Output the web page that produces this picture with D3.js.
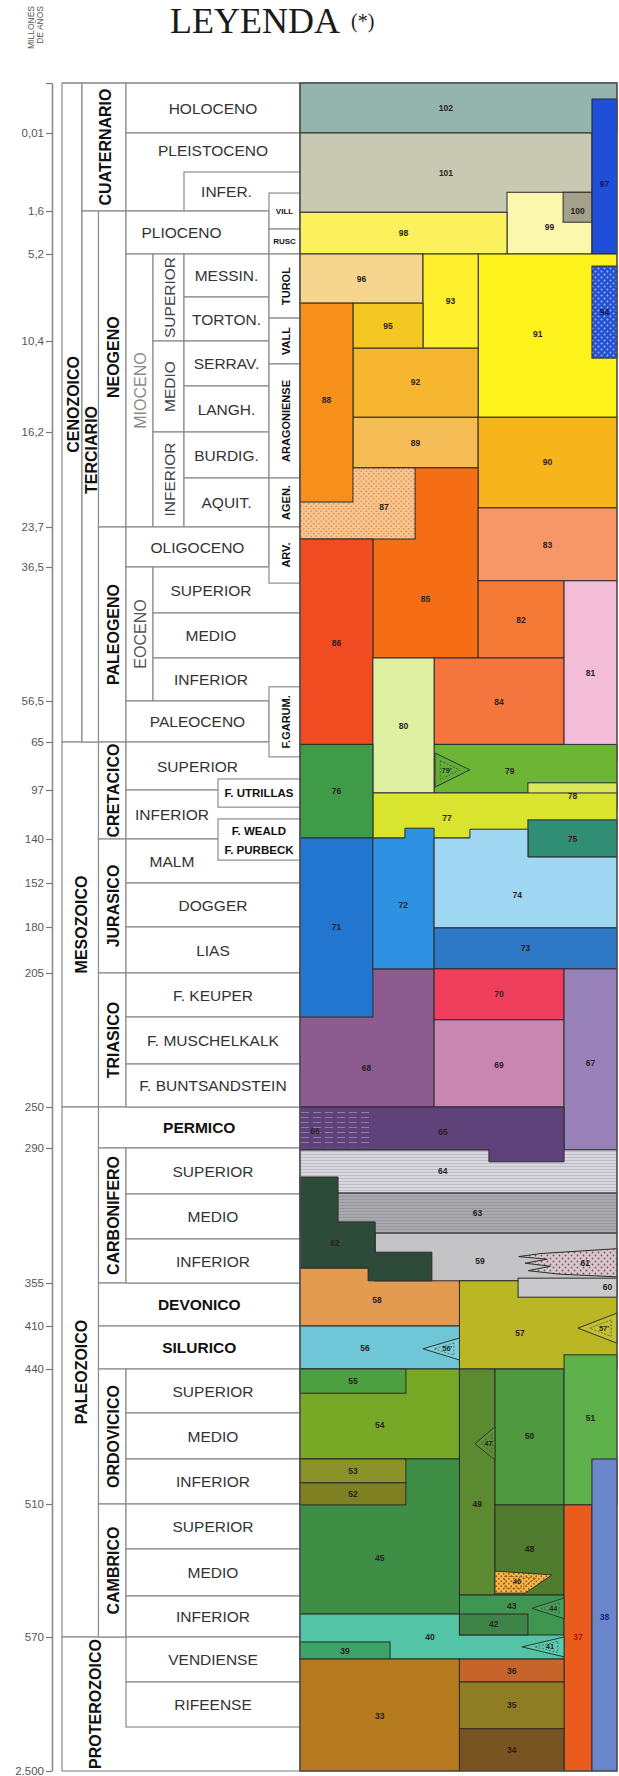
<!DOCTYPE html>
<html><head><meta charset="utf-8">
<script src="https://cdn.jsdelivr.net/npm/d3@7"></script>
<style>body{margin:0;background:#fff}svg{display:block}</style>
</head><body>
<svg id="c" width="619" height="1776"></svg>
<script>
// ================= DATA =================
// Time ticks (millones de años) and the stage-row index at which each sits
const tickAges = [0,0.01,1.6,5.2,10.4,16.2,23.7,36.5,56.5,65,97,140,152,180,205,250,290,355,410,440,510,570,2500];
const tickRows = [0,1,2,3,5,7,9,10,13,14,15,16,17,18,19,22,23,26,27,28,31,34,37];

// Chronostratigraphic table: [label, fromColumn, toColumn, fromRow, toRow, kind, extra]
const eraCells = [
 ["CENOZOICO",0,1,0,14,"era",{lr:6.4}],
 ["MESOZOICO",0,2,14,22,"era"],
 ["PALEOZOICO",0,2,22,34,"era"],
 ["PROTEROZOICO",0,8,34,37,"era",{lc1:3}],
 ["CUATERNARIO",1,3,0,2,"per"],
 ["TERCIARIO",1,2,2,14,"per",{lr:7.39}]
];
const periodCells = [
 ["NEOGENO",2,3,2,9,"per",{lr:5.36}],["PALEOGENO",2,3,9,14,"per"],
 ["CRETACICO",2,3,14,16,"per"],["JURASICO",2,3,16,19,"per"],["TRIASICO",2,3,19,22,"per"],
 ["PERMICO",2,8,22,23,"perH"],["CARBONIFERO",2,3,23,26,"per"],
 ["DEVONICO",2,8,26,27,"perH"],["SILURICO",2,8,27,28,"perH"],
 ["ORDOVICICO",2,3,28,31,"per"],["CAMBRICO",2,3,31,34,"per"]
];
const stageCells = [
 ["HOLOCENO",3,8,0,1,"st"],["PLEISTOCENO",3,8,1,2,"st",{lr:1.23}],
 ["INFER.",5,8,1.5,2,"st",{lc1:7}],
 ["PLIOCENO",3,7,2,3,"st",{dx:-16}],
 ["MIOCENO",3,4,3,9,"epo"],
 ["SUPERIOR",4,5,3,5,"sub"],["MEDIO",4,5,5,7,"sub"],["INFERIOR",4,5,7,9,"sub"],
 ["MESSIN.",5,7,3,4,"st"],["TORTON.",5,7,4,5,"st"],["SERRAV.",5,7,5,6,"st"],
 ["LANGH.",5,7,6,7,"st"],["BURDIG.",5,7,7,8,"st"],["AQUIT.",5,7,8,9,"st"],
 ["OLIGOCENO",3,7,9,10,"st"],
 ["EOCENO",3,4,10,13,"epo",{fill:"#555"}],
 ["SUPERIOR",4,8,10,11,"st",{lc1:7}],["MEDIO",4,8,11,12,"st",{lc1:7}],["INFERIOR",4,8,12,13,"st",{lc1:7}],
 ["PALEOCENO",3,7,13,14,"st"],
 ["SUPERIOR",3,8,14,15,"st",{lc1:7}],["INFERIOR",3,8,15,16,"st",{lc1:6}],
 ["MALM",3,8,16,17,"st",{lc1:6}],["DOGGER",3,8,17,18,"st"],["LIAS",3,8,18,19,"st"],
 ["F. KEUPER",3,8,19,20,"st"],["F. MUSCHELKALK",3,8,20,21,"st"],["F. BUNTSANDSTEIN",3,8,21,22,"st"],
 ["SUPERIOR",3,8,23,24,"st"],["MEDIO",3,8,24,25,"st"],["INFERIOR",3,8,25,26,"st"],
 ["SUPERIOR",3,8,28,29,"st"],["MEDIO",3,8,29,30,"st"],["INFERIOR",3,8,30,31,"st"],
 ["SUPERIOR",3,8,31,32,"st"],["MEDIO",3,8,32,33,"st"],["INFERIOR",3,8,33,34,"st"],
 ["VENDIENSE",3,8,34,35,"st"],["RIFEENSE",3,8,35,36,"st"]
];
const localCells = [
 ["VILL",7,8,1.77,2.42,"tiny"],["RUSC",7,8,2.42,3,"tiny"],
 ["TUROL",7,8,3,4.48,"boxR"],["VALL",7,8,4.48,5.51,"boxR"],["ARAGONIENSE",7,8,5.51,8,"boxR"],
 ["AGEN.",7,8,8,9,"boxR"],["ARV.",7,8,9,10.35,"boxR"],
 ["F.GARUM.",7,8,12.67,14.31,"boxR"],
 ["F. UTRILLAS",6,8,14.77,15.35,"boxH"],
 ["F. WEALD",6,8,15.59,16.48,"boxH",{lr:15.83}],
 ["F. PURBECK",6,8,15.59,16.48,"lbl",{lr:16.25}]
];

// Map units (x: % of panel width, r: stage rows), drawn back to front
const units = [
 {id:"102",fill:"#93b5ad",x0:0,x1:100,r0:0,r1:1,lx:46},
 {id:"101",fill:"#c8c9b3",x0:0,x1:92.1,r0:1,r1:2.03},
 {id:"99",fill:"#fbf7ad",x0:65.3,x1:92.1,r0:1.76,r1:3},
 {id:"100",fill:"#a3a18b",x0:83,x1:92.1,r0:1.76,r1:2.26},
 {id:"98",fill:"#fbf15c",x0:0,x1:65.3,r0:2.03,r1:3},
 {id:"97",fill:"#1f4fd8",x0:92.1,x1:100,r0:0.32,r1:3,tc:"#0b1a5a"},
 {id:"91",fill:"#fdf21c",x0:56.2,x1:100,r0:3,r1:6.68,lx:75},
 {id:"94",fill:"url(#pBlue)",x0:92.1,x1:100,r0:3.28,r1:5.38,tc:"#0b1a5a"},
 {id:"96",fill:"#f6d68e",x0:0,x1:38.8,r0:3,r1:4.14},
 {id:"93",fill:"#fdee2e",x0:38.8,x1:56.2,r0:3,r1:5.16},
 {id:"95",fill:"#f4c823",x0:16.7,x1:38.8,r0:4.14,r1:5.16},
 {id:"92",fill:"#f6b630",x0:16.7,x1:56.2,r0:5.16,r1:6.68},
 {id:"89",fill:"#f6bc55",x0:16.7,x1:56.2,r0:6.68,r1:7.78},
 {id:"90",fill:"#f8b51b",x0:56.2,x1:100,r0:6.68,r1:8.61},
 {id:"85",fill:"#f56e15",x0:23,x1:56.2,r0:7.78,r1:12,lr:10.7},
 {id:"87",fill:"url(#pPeach)",x0:0,x1:36.3,r0:7.78,r1:9.3,lx:26.5,lr:8.6},
 {id:"88",fill:"#f7901b",x0:0,x1:16.7,r0:4.14,r1:8.49},
 {id:"86",fill:"#f14b22",x0:0,x1:23,r0:9.3,r1:14.05},
 {id:"83",fill:"#f79767",x0:56.2,x1:100,r0:8.61,r1:10.3},
 {id:"82",fill:"#f57a36",x0:56.2,x1:83.3,r0:10.3,r1:12},
 {id:"84",fill:"#f5753f",x0:42.3,x1:83.3,r0:12,r1:14.05},
 {id:"81",fill:"#f4bdd7",x0:83.3,x1:100,r0:10.3,r1:14.4},
 {id:"79",fill:"#6db535",x0:42.3,x1:100,r0:14.05,r1:15.06,lx:66.2,lr:14.6},
 {id:"80",fill:"#dff0a3",x0:23,x1:42.3,r0:12,r1:15.06,lr:13.6},
 {id:"78",fill:"#dae75c",x0:71.9,x1:100,r0:14.85,r1:15.41},
 {id:"77",fill:"#d9e42e",x0:23,x1:100,r0:15.06,r1:15.98,lx:46.4,lr:15.57},
 {id:"76",fill:"#3f9b47",x0:0,x1:23,r0:14.05,r1:15.98},
 {id:"75",fill:"#2f8e73",x0:71.9,x1:100,r0:15.61,r1:16.41},
 {id:"68",fill:"#8c5b8f",x0:0,x1:42.3,r0:18.91,r1:22,lx:21,lr:21.1},
 {id:"71",fill:"#2276cf",x0:0,x1:23,r0:15.98,r1:20},
 {id:"72",fill:"#2e91e2",pts:[[23,15.98],[33.1,15.98],[33.1,15.78],[42.3,15.78],[42.3,18.91],[23,18.91]],lx:32.6,lr:17.5},
 {id:"74",fill:"#a0d8f3",pts:[[42.3,15.98],[53.6,15.98],[53.6,15.8],[71.9,15.8],[71.9,16.41],[100,16.41],[100,18.02],[42.3,18.02]],lx:68.5,lr:17.27},
 {id:"73",fill:"#2f78c5",x0:42.3,x1:100,r0:18.02,r1:18.91},
 {id:"70",fill:"#f03f5d",x0:42.3,x1:83.3,r0:18.91,r1:20.06},
 {id:"69",fill:"#c886b1",x0:42.3,x1:83.3,r0:20.06,r1:22},
 {id:"67",fill:"#9981b9",x0:83.3,x1:100,r0:18.91,r1:23.04},
 {id:"64",fill:"url(#pLight)",x0:0,x1:100,r0:23.04,r1:23.98,lx:45},
 {id:"65",fill:"#5f4279",pts:[[0,22],[83.3,22],[83.3,23.3],[59.6,23.3],[59.6,23.04],[0,23.04]],lx:45.1,lr:22.6},
 {id:"66",fill:"url(#pHatch)",x0:0,x1:22,r0:22.08,r1:22.98,lx:4.7,lr:22.58,noStroke:true},
 {id:"63",fill:"url(#pGray)",x0:0,x1:100,r0:23.98,r1:24.87,lx:56},
 {id:"58",fill:"#e29b50",x0:0,x1:50.3,r0:25.66,r1:27,lx:24.3,lr:26.4},
 {id:"59",fill:"#c4c4c7",x0:23.7,x1:100,r0:24.87,r1:25.95,lx:56.8,lr:25.5},
 {id:"62",fill:"#2e4a38",pts:[[0,23.63],[12,23.63],[12,24.62],[23.7,24.62],[23.7,25.3],[41.6,25.3],[41.6,25.95],[21.5,25.95],[21.5,25.66],[0,25.66]],lx:11,lr:25.1},
 {id:"57",fill:"#bbb624",x0:50.3,x1:100,r0:25.95,r1:28,lx:69.4,lr:27.17},
 {id:"60",fill:"#cacacd",x0:68.8,x1:100,r0:25.89,r1:26.33,lx:97,lr:26.1},
 {id:"61",fill:"url(#pPink)",pts:[[100,25.22],[76,25.33],[69,25.4],[78,25.46],[71,25.55],[79,25.62],[72,25.72],[82,25.8],[100,25.86]],lx:90,lr:25.55},
 {id:"56",fill:"#6fc6d6",x0:0,x1:50.3,r0:27,r1:28,lx:20.5},
 {id:"54",fill:"#77a927",x0:0,x1:50.3,r0:28,r1:30,lr:29.25},
 {id:"55",fill:"#4da040",x0:0,x1:33.4,r0:28,r1:28.55},
 {id:"45",fill:"#3e8f45",x0:0,x1:50.3,r0:30,r1:33.44,lr:32.2},
 {id:"53",fill:"#8b9229",x0:0,x1:33.4,r0:30,r1:30.53},
 {id:"52",fill:"#7e8021",x0:0,x1:33.4,r0:30.53,r1:31.02},
 {id:"49",fill:"#5b8a31",x0:50.3,x1:61.5,r0:28,r1:32.98,lr:31},
 {id:"50",fill:"#4f9a40",x0:61.5,x1:83.3,r0:28,r1:31.02},
 {id:"51",fill:"#5eb14b",x0:83.3,x1:100,r0:27.67,r1:31.02,lr:29.1},
 {id:"48",fill:"#507a2d",x0:61.5,x1:83.3,r0:31.02,r1:32.98},
 {id:"40",fill:"#53c4a6",x0:0,x1:83.3,r0:33.44,r1:34.49,lx:41,lr:34.0},
 {id:"43",fill:"#3f9651",x0:50.3,x1:83.3,r0:32.98,r1:33.95,lr:33.25},
 {id:"42",fill:"#3e8347",x0:50.3,x1:71.9,r0:33.44,r1:33.95},
 {id:"39",fill:"#3ea369",x0:0,x1:28.4,r0:34.11,r1:34.49},
 {id:"37",fill:"#ea5c1e",x0:83.3,x1:92.1,r0:31.02,r1:37,tc:"#b80c0c"},
 {id:"38",fill:"#6c86cb",x0:92.1,x1:100,r0:30,r1:37,tc:"#10258a"},
 {id:"33",fill:"#b57a1e",x0:0,x1:50.3,r0:34.49,r1:37},
 {id:"36",fill:"#c6642c",x0:50.3,x1:83.3,r0:34.49,r1:35},
 {id:"35",fill:"#8f7d23",x0:50.3,x1:83.3,r0:35,r1:36.04},
 {id:"34",fill:"#785422",x0:50.3,x1:83.3,r0:36.04,r1:37}
];

// Lens / wedge symbols inside units
const wedges = [
 {id:"79'",fill:"#63ad38",pts:[[42.6,14.23],[53.6,14.58],[42.6,14.94]]},
 {id:"57'",fill:"#c4bf35",pts:[[100,26.7],[87.7,27.05],[100,27.4]]},
 {id:"56'",fill:"#7ccfdc",pts:[[50.3,27.28],[38.8,27.53],[50.3,27.79]]},
 {id:"47",fill:"#5f9036",pts:[[61.5,29.3],[55.2,29.67],[61.5,30.02]]},
 {id:"46",fill:"url(#pOrange)",pts:[[61.5,32.47],[79.5,32.55],[71,32.94],[61.5,32.94]]},
 {id:"44",fill:"#49a05a",pts:[[83.3,33.05],[73.2,33.3],[83.3,33.55]]},
 {id:"41",fill:"#5ccab0",pts:[[83.3,34.0],[70,34.22],[83.3,34.44]]}
];

// ================= LAYOUT =================
const W = 619, H = 1776;
const rowEdges = [83,133,211,254,297,341,386,432,478,527,567,613,658,701,742,790,839,883,927,973,1017,1064,1107,1148,1194,1239,1283,1326,1369,1413,1459,1504,1549,1596,1637,1682,1727,1771];
const colEdges = [62,82,98.5,126,153,184,218,269,300];
const panelX = [300,617];
const axisX = 52;
const FONT = "'Liberation Sans',Arial,Helvetica,sans-serif";

const yRow = d3.scaleLinear().domain(d3.range(rowEdges.length)).range(rowEdges);
const yAge = d3.scaleLinear().domain(tickAges).range(tickRows.map(yRow));
const xP = d3.scaleLinear().domain([0,100]).range(panelX);

const svg = d3.select("#c").attr("width",W).attr("height",H);
const defs = svg.append("defs");

function dotPat(id,bg,fg,s,r){
  const p = defs.append("pattern").attr("id",id).attr("width",s).attr("height",s).attr("patternUnits","userSpaceOnUse");
  p.append("rect").attr("width",s).attr("height",s).attr("fill",bg);
  p.append("circle").attr("cx",s*0.25).attr("cy",s*0.25).attr("r",r).attr("fill",fg);
  p.append("circle").attr("cx",s*0.75).attr("cy",s*0.75).attr("r",r).attr("fill",fg);
}
function linePat(id,bg,fg,s){
  const p = defs.append("pattern").attr("id",id).attr("width",8).attr("height",s).attr("patternUnits","userSpaceOnUse");
  p.append("rect").attr("width",8).attr("height",s).attr("fill",bg);
  p.append("line").attr("x1",0).attr("x2",8).attr("y1",s-0.5).attr("y2",s-0.5).attr("stroke",fg).attr("stroke-width",0.6);
}
dotPat("pBlue","#2552d2","#9fb8ff",6,0.9);
dotPat("pPeach","#f7c48f","#dc8a3c",5,0.8);
dotPat("pPink","#dac6ca","#6b5b63",6,0.9);
dotPat("pOrange","#f6b94a","#a4500e",5,0.9);
linePat("pLight","#d8d7e0","#aaaab6",3);
linePat("pGray","#a8a8ad","#8c8c92",3);
(function(){
  const p = defs.append("pattern").attr("id","pHatch").attr("width",12).attr("height",5).attr("patternUnits","userSpaceOnUse");
  p.append("rect").attr("width",12).attr("height",5).attr("fill","#5f4279");
  p.append("line").attr("x1",1).attr("x2",9).attr("y1",2.5).attr("y2",2.5).attr("stroke","#a893c0").attr("stroke-width",0.7);
})();

// ----- Title -----
svg.append("text").attr("x",255).attr("y",33).attr("text-anchor","middle")
  .attr("font-family","'Liberation Serif','Times New Roman',serif").attr("font-size",36)
  .attr("fill","#1a1a1a").text("LEYENDA");
svg.append("text").attr("x",351).attr("y",28).attr("font-family","'Liberation Serif','Times New Roman',serif")
  .attr("font-size",20).attr("fill","#1a1a1a").text("(*)");
[["MILLONES",34],["DE AÑOS",43]].forEach(([t,x])=>{
  svg.append("text").attr("transform",`translate(${x},6) rotate(-90)`).attr("text-anchor","end")
    .attr("font-family",FONT).attr("font-size",8.5).attr("fill","#555").text(t);
});

// ----- Age axis -----
const loc = d3.formatLocale({decimal:",",thousands:".",grouping:[3],currency:["",""]});
const fmt = loc.format(",");
const axis = svg.append("g").attr("transform",`translate(${axisX},0)`)
  .call(d3.axisLeft(yAge).tickValues(tickAges).tickFormat(d=>d===0?"":fmt(d)).tickSize(6).tickSizeOuter(0).tickPadding(2));
axis.select(".domain").attr("stroke","#8a8a8a").attr("stroke-width",1.6);
axis.selectAll(".tick line").attr("stroke","#777").attr("stroke-width",1.2);
axis.selectAll(".tick text").attr("font-family",FONT).attr("font-size",11.5).attr("fill","#555");

// ----- Table cells -----
const kinds = {
  era:{rot:true,size:16,weight:"bold",fill:"#111"},
  per:{rot:true,size:16,weight:"bold",fill:"#111"},
  perH:{rot:false,size:15.5,weight:"bold",fill:"#111"},
  epo:{rot:true,size:16,weight:"normal",fill:"#8a8a8a"},
  sub:{rot:true,size:15.5,weight:"normal",fill:"#444"},
  st:{rot:false,size:15.5,weight:"normal",fill:"#333"},
  boxR:{rot:true,size:11,weight:"bold",fill:"#111"},
  boxH:{rot:false,size:11.5,weight:"bold",fill:"#111"},
  lbl:{rot:false,size:11.5,weight:"bold",fill:"#111",noRect:true},
  tiny:{rot:false,size:8,weight:"bold",fill:"#111"}
};
const gT = svg.append("g");
function drawCells(list){
  list.forEach(([name,c0,c1,r0,r1,kind,ex])=>{
    ex = ex||{};
    const k = kinds[kind];
    const x0 = colEdges[c0], x1 = colEdges[c1], y0 = yRow(r0), y1 = yRow(r1);
    if(!k.noRect){
      gT.append("rect").attr("x",x0).attr("y",y0).attr("width",x1-x0).attr("height",y1-y0)
        .attr("fill","#fff").attr("stroke","#8c8c8c").attr("stroke-width",1.2);
    }
    const lx = (x0 + colEdges[ex.lc1!==undefined?ex.lc1:c1])/2 + (ex.dx||0);
    const ly = ex.lr!==undefined ? yRow(ex.lr) : (y0+y1)/2;
    const t = gT.append("text").attr("text-anchor","middle").attr("dominant-baseline","central")
      .attr("font-family",FONT).attr("font-size",k.size).attr("font-weight",k.weight)
      .attr("fill",ex.fill||k.fill).text(name);
    if(k.rot) t.attr("transform",`translate(${lx+1},${ly}) rotate(-90)`);
    else t.attr("x",lx).attr("y",ly);
  });
}
drawCells(eraCells); drawCells(periodCells); drawCells(stageCells); drawCells(localCells);
gT.append("line").attr("x1",colEdges[0]).attr("x2",panelX[1]).attr("y1",rowEdges[0]).attr("y2",rowEdges[0])
  .attr("stroke","#8c8c8c").attr("stroke-width",1.2);

// ----- Map units -----
const gU = svg.append("g");
const line = d3.line().x(d=>xP(d[0])).y(d=>yRow(d[1]));
units.forEach(u=>{
  const stroke = u.noStroke ? "none" : "#2b2b2b";
  if(u.pts){
    gU.append("path").attr("d",line(u.pts)+"Z").attr("fill",u.fill).attr("stroke",stroke).attr("stroke-width",1);
  } else {
    gU.append("rect").attr("x",xP(u.x0)).attr("y",yRow(u.r0)).attr("width",xP(u.x1)-xP(u.x0))
      .attr("height",yRow(u.r1)-yRow(u.r0)).attr("fill",u.fill).attr("stroke",stroke).attr("stroke-width",1);
  }
});
wedges.forEach(w=>{
  gU.append("path").attr("d",line(w.pts)+"Z").attr("fill",w.fill).attr("stroke","#2b3b2b").attr("stroke-width",1);
  const c = d3.polygonCentroid(w.pts);
  const inner = w.pts.map(p=>[c[0]+(p[0]-c[0])*0.55, c[1]+(p[1]-c[1])*0.55]);
  gU.append("path").attr("d",line(inner)+"Z").attr("fill","none").attr("stroke","#2b3b2b")
    .attr("stroke-width",0.6).attr("stroke-dasharray","2,1.5");
  const tx = w.pts.length===3 ? (w.pts[1][0] + 2*w.pts[0][0])/3 : c[0];
  gU.append("text").attr("x",xP(tx)).attr("y",yRow(c[1])).attr("text-anchor","middle").attr("dominant-baseline","central")
    .attr("font-family",FONT).attr("font-size",7.5).attr("font-weight","bold").attr("fill","#1d2a1d").text(w.id);
});
units.forEach(u=>{
  let lx, lr;
  if(u.pts){ const c = d3.polygonCentroid(u.pts); lx = u.lx!==undefined?u.lx:c[0]; lr = u.lr!==undefined?u.lr:c[1]; }
  else { lx = u.lx!==undefined?u.lx:(u.x0+u.x1)/2; lr = u.lr!==undefined?u.lr:(u.r0+u.r1)/2; }
  gU.append("text").attr("x",xP(lx)).attr("y",yRow(lr)).attr("text-anchor","middle").attr("dominant-baseline","central")
    .attr("font-family",FONT).attr("font-size",8.5).attr("font-weight","bold").attr("fill",u.tc||"#2a2222").text(u.id);
});
// panel frame
svg.append("rect").attr("x",panelX[0]).attr("y",rowEdges[0]).attr("width",panelX[1]-panelX[0])
  .attr("height",rowEdges[rowEdges.length-1]-rowEdges[0]).attr("fill","none").attr("stroke","#555").attr("stroke-width",1.2);
</script>
</body></html>
